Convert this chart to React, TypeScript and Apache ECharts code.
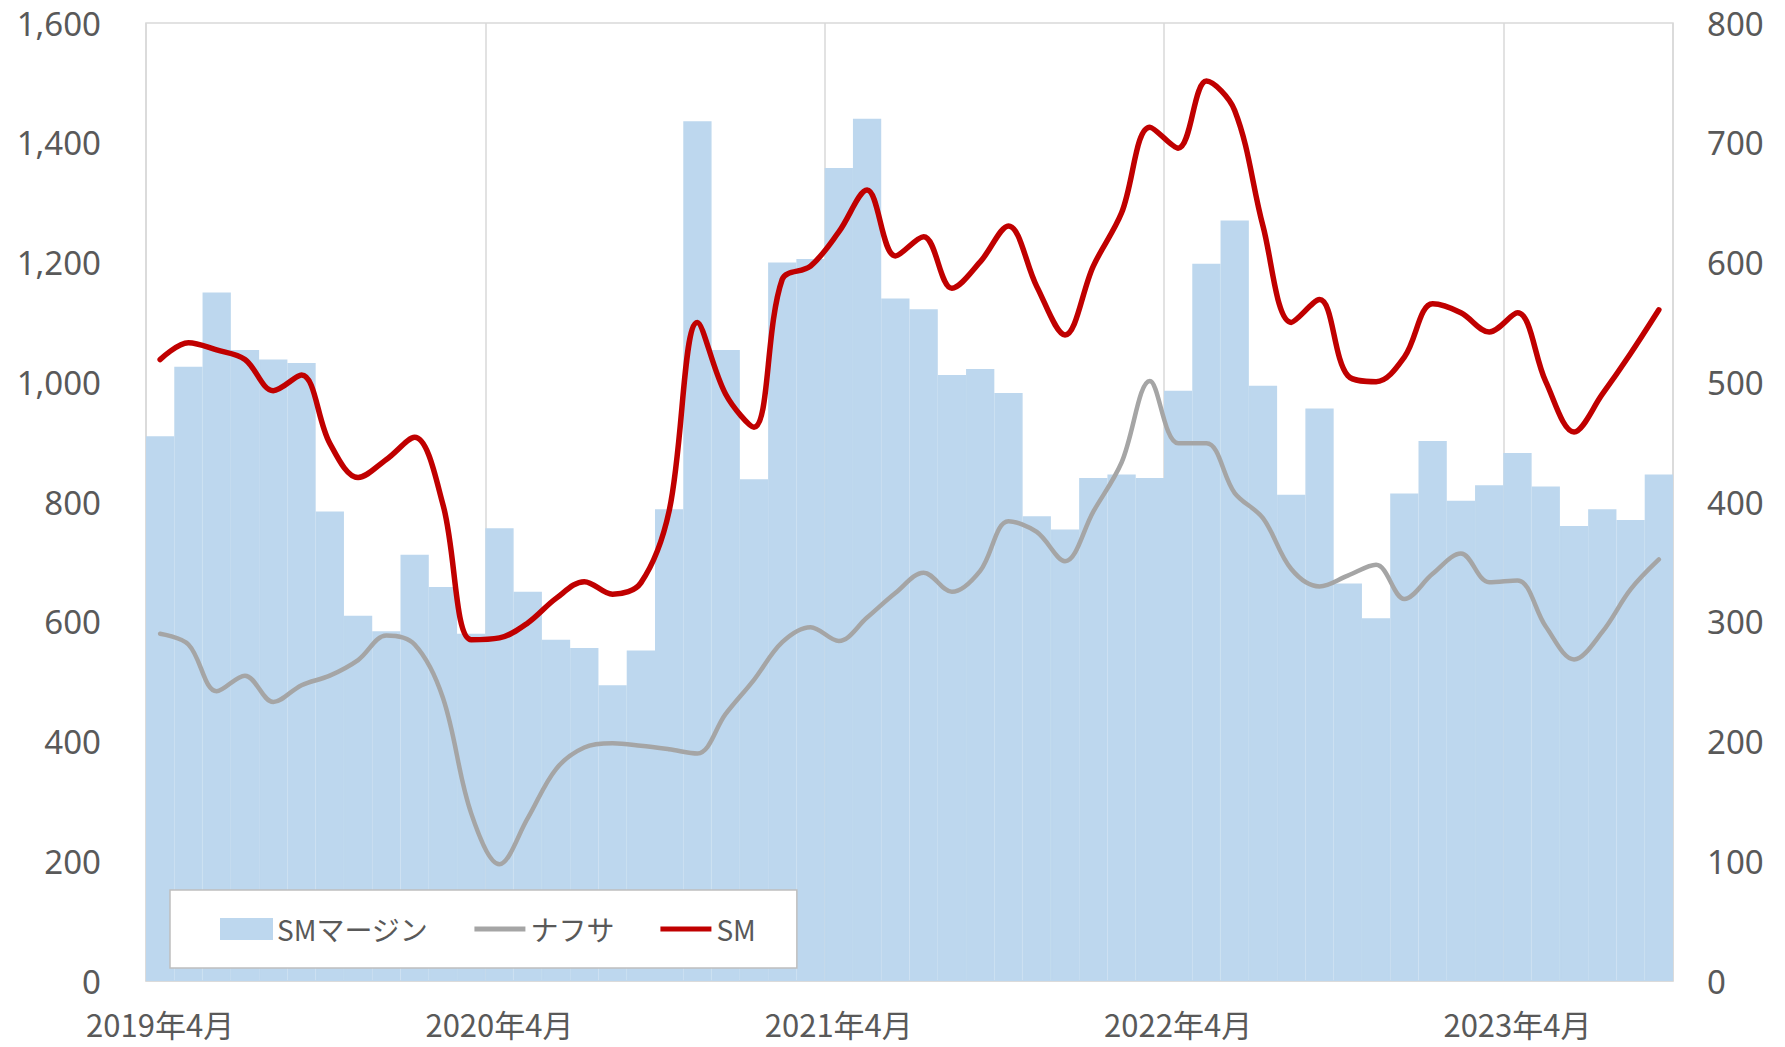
import React, { useEffect, useRef } from "react";
import * as echarts from "echarts";

const categories: string[] = [
  "2019年4月", "2019年5月", "2019年6月", "2019年7月", "2019年8月", "2019年9月", "2019年10月", "2019年11月", "2019年12月",
  "2020年1月", "2020年2月", "2020年3月", "2020年4月", "2020年5月", "2020年6月", "2020年7月", "2020年8月", "2020年9月",
  "2020年10月", "2020年11月", "2020年12月",
  "2021年1月", "2021年2月", "2021年3月", "2021年4月", "2021年5月", "2021年6月", "2021年7月", "2021年8月", "2021年9月",
  "2021年10月", "2021年11月", "2021年12月",
  "2022年1月", "2022年2月", "2022年3月", "2022年4月", "2022年5月", "2022年6月", "2022年7月", "2022年8月", "2022年9月",
  "2022年10月", "2022年11月", "2022年12月",
  "2023年1月", "2023年2月", "2023年3月", "2023年4月", "2023年5月", "2023年6月", "2023年7月", "2023年8月", "2023年9月",
];

// SMマージン (right axis)
const smMargin: number[] = [
  455, 513, 575, 527, 519, 516, 392, 305, 292, 356, 329, 290,
  378, 325, 285, 278, 247, 276, 394, 718, 527, 419, 600, 603,
  679, 720, 570, 561, 506, 511, 491, 388, 377, 420, 423, 420,
  493, 599, 635, 497, 406, 478, 332, 303, 407, 451, 401, 414,
  441, 413, 380, 394, 385, 423,
];

// ナフサ (left axis)
const naphtha: number[] = [
  580, 562, 484, 510, 466, 494, 510, 536, 577, 562, 473, 280,
  195, 272, 354, 390, 397, 393, 387, 380, 446, 503, 566, 591,
  568, 607, 648, 682, 650, 685, 768, 750, 701, 784, 866, 1002,
  898, 898, 815, 773, 688, 659, 677, 695, 638, 680, 714, 666,
  669, 592, 537, 583, 654, 704,
];

// SM (left axis)
const sm: number[] = [
  1038, 1066, 1054, 1038, 986, 1012, 898, 841, 871, 908, 796, 570,
  573, 598, 639, 667, 646, 665, 785, 1100, 980, 925, 1172, 1194,
  1251, 1321, 1211, 1243, 1157, 1201, 1261, 1160, 1079, 1194, 1283, 1426,
  1391, 1503, 1454, 1261, 1100, 1138, 1011, 1001, 1042, 1131, 1116, 1084,
  1116, 1001, 917, 980, 1048, 1121,
];

const leftTicks = { min: 0, max: 1600, interval: 200 };
const rightTicks = { min: 0, max: 800, interval: 100 };

const labelColor = "#595959";
const cjkFont = "'Noto Sans CJK JP', 'Noto Sans', sans-serif";
const numFont = "'Noto Sans', 'DejaVu Sans', sans-serif";

// legend line icon: a thin bar centred in a 51x20 box (tiny zero-area marks fix the bounds)
const lineIcon = "path://M0,0 L0.01,0 Z M0,7.5 L51,7.5 L51,12.5 L0,12.5 Z M51,20 L50.99,20 Z";

export default function App() {
  const ref = useRef<HTMLDivElement>(null);

  useEffect(() => {
    if (!ref.current) return;
    const chart = echarts.init(ref.current, undefined, { renderer: "svg" });
    const option: any = {
      animation: false,
      backgroundColor: "#ffffff",
      grid: {
        left: 146,
        right: 112,
        top: 23,
        bottom: 66,
        show: true,
        borderColor: "#d9d9d9",
        borderWidth: 1.5,
        backgroundColor: "transparent",
      },
      legend: {
        left: 170,
        top: 890,
        orient: "horizontal",
        backgroundColor: "#ffffff",
        borderColor: "#bfbfbf",
        borderWidth: 1.5,
        padding: [25, 41, 25, 50],
        itemWidth: 51,
        itemHeight: 20,
        itemGap: 46,
        z: 10,
        textStyle: { fontFamily: cjkFont, fontSize: 28, color: labelColor },
        data: [
          { name: "SMマージン", icon: "rect" },
          { name: "ナフサ", icon: lineIcon },
          { name: "SM", icon: lineIcon },
        ],
      },
      xAxis: {
        type: "category",
        data: categories,
        boundaryGap: true,
        axisLine: { show: true, lineStyle: { color: "#d9d9d9", width: 1.5 } },
        axisTick: { show: false },
        axisLabel: {
          interval: (index: number) => index % 12 === 0,
          fontFamily: cjkFont,
          fontSize: 31,
          lineHeight: 31,
          color: labelColor,
          margin: 27,
        },
        splitLine: {
          show: true,
          interval: (index: number) => index % 12 === 0,
          lineStyle: { color: "#d9d9d9", width: 1.5 },
        },
      },
      yAxis: [
        {
          type: "value",
          position: "left",
          min: leftTicks.min,
          max: leftTicks.max,
          interval: leftTicks.interval,
          axisLine: { show: false },
          axisTick: { show: false },
          splitLine: { show: false },
          axisLabel: {
            fontFamily: numFont,
            fontSize: 33,
            color: labelColor,
            margin: 45,
            formatter: (v: number) => v.toLocaleString("en-US"),
          },
        },
        {
          type: "value",
          position: "right",
          min: rightTicks.min,
          max: rightTicks.max,
          interval: rightTicks.interval,
          axisLine: { show: false },
          axisTick: { show: false },
          splitLine: { show: false },
          axisLabel: {
            fontFamily: numFont,
            fontSize: 33,
            color: labelColor,
            margin: 34,
          },
        },
      ],
      series: [
        {
          name: "SMマージン",
          type: "bar",
          yAxisIndex: 1,
          data: smMargin,
          barCategoryGap: "0%",
          itemStyle: { color: "#BDD7EE", borderColor: "#BDD7EE", borderWidth: 1.5 },
          z: 2,
        },
        {
          name: "ナフサ",
          type: "line",
          yAxisIndex: 0,
          data: naphtha,
          smooth: 0.35,
          symbol: "none",
          lineStyle: { color: "#A5A5A5", width: 4.5, cap: "round", join: "round" },
          itemStyle: { color: "#A5A5A5" },
          z: 3,
        },
        {
          name: "SM",
          type: "line",
          yAxisIndex: 0,
          data: sm,
          smooth: 0.35,
          symbol: "none",
          lineStyle: { color: "#C00000", width: 5.5, cap: "round", join: "round" },
          itemStyle: { color: "#C00000" },
          z: 4,
        },
      ],
    };
    chart.setOption(option);
    return () => {
      chart.dispose();
    };
  }, []);

  return (
    <div
      ref={ref}
      style={{ position: "fixed", left: 0, top: 0, width: 1785, height: 1047 }}
    />
  );
}
